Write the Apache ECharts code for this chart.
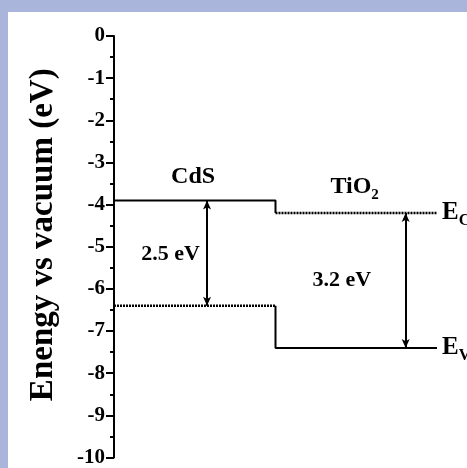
<!DOCTYPE html>
<html>
<head>
<meta charset="utf-8">
<script src="https://cdn.jsdelivr.net/npm/echarts@6/dist/echarts.min.js"></script>
<style>
html,body{margin:0;padding:0;width:467px;height:468px;overflow:hidden;background:#aab5dc;}
#bg{position:absolute;left:8px;top:12px;width:459px;height:456px;background:#fff;}
#chart{position:absolute;left:0;top:0;width:467px;height:468px;}
</style>
</head>
<body>
<div id="bg"></div>
<div id="chart"></div>
<script>
// Data
const materials = ['CdS', 'TiO2'];
const cbEnergy = [-3.9, -4.2];   // conduction band edges (eV)
const vbEnergy = [-6.4, -7.4];   // valence band edges (eV)
const gapLabels = ['2.5 eV', '3.2 eV'];
const yMin = -10, yMax = 0, yInterval = 1;
const arrowX = [0.576, 1.806];

const FONT = 'Liberation Serif';
const black = '#000';

const chart = echarts.init(document.getElementById('chart'), null, {renderer: 'canvas'});

const solid = {color: black, width: 2, type: 'solid'};
const dotted = {color: black, width: 2.5, type: [2, 1]};

function lineSeries(data, style) {
  return {
    type: 'line', data: data, showSymbol: false, symbol: 'none',
    lineStyle: style, clip: false, animation: false, silent: true
  };
}

const series = [
  lineSeries([[0, cbEnergy[0]], [1, cbEnergy[0]], [1, cbEnergy[1]]], solid),
  lineSeries([[1, cbEnergy[1]], [2, cbEnergy[1]]], dotted),
  lineSeries([[0, vbEnergy[0]], [1, vbEnergy[0]]], dotted),
  lineSeries([[1, vbEnergy[0]], [1, vbEnergy[1]], [2, vbEnergy[1]]], solid),
  {
    type: 'line', data: [], silent: true, animation: false,
    markLine: {
      silent: true, animation: false,
      symbol: ['arrow', 'arrow'], symbolSize: [6, 9],
      label: {show: false},
      lineStyle: {color: black, width: 2, type: 'solid'},
      data: materials.map((m, i) => [
        {coord: [arrowX[i], cbEnergy[i]]},
        {coord: [arrowX[i], vbEnergy[i]]}
      ])
    }
  },
  {
    type: 'scatter', symbolSize: 0, silent: true, animation: false, clip: false,
    itemStyle: {opacity: 1},
    label: {
      show: true, color: black, fontFamily: FONT, fontWeight: 'bold', fontSize: 22,
      formatter: p => p.data.text,
      rich: {
        b: {fontFamily: FONT, fontWeight: 'bold', fontSize: 24, color: black},
        sub: {fontFamily: FONT, fontWeight: 'bold', fontSize: 15, color: black, padding: [16, 0, 0, 0]},
        e: {fontFamily: FONT, fontWeight: 'bold', fontSize: 25, color: black},
        esub: {fontFamily: FONT, fontWeight: 'bold', fontSize: 16, color: black, padding: [16, 0, 0, 0]}
      }
    },
    data: [
      {value: [0.49, -3.33], text: '{b|CdS}', label: {position: 'inside'}},
      {value: [1.49, -3.58], text: '{b|TiO}{sub|2}', label: {position: 'inside'}},
      {value: [0.35, -5.18], text: gapLabels[0], label: {position: 'inside'}},
      {value: [1.41, -5.79], text: gapLabels[1], label: {position: 'inside'}},
      {value: [2.0, cbEnergy[1]], text: '{e|E}{esub|C}', label: {position: 'right', distance: 5}},
      {value: [2.0, vbEnergy[1]], text: '{e|E}{esub|V}', label: {position: 'right', distance: 5}}
    ]
  }
];

chart.setOption({
  backgroundColor: 'transparent',
  animation: false,
  grid: {left: 114, top: 36, right: 30, bottom: 8, containLabel: false},
  xAxis: {type: 'value', min: 0, max: 2, show: false},
  yAxis: {
    type: 'value', min: yMin, max: yMax, interval: yInterval,
    name: 'Enengy vs vacuum (eV)',
    nameLocation: 'middle', nameGap: 54,
    nameTextStyle: {fontFamily: FONT, fontWeight: 'bold', fontSize: 33, color: black, padding: [0, 0, 0, 24]},
    axisLine: {show: true, lineStyle: {color: black, width: 2}},
    axisTick: {show: true, length: 8, lineStyle: {color: black, width: 2}},
    minorTick: {show: true, splitNumber: 2, length: 4, lineStyle: {color: black, width: 2}},
    axisLabel: {fontFamily: FONT, fontWeight: 'bold', fontSize: 21, color: black, margin: 9},
    splitLine: {show: false}
  },
  series: series
});
</script>
</body>
</html>
